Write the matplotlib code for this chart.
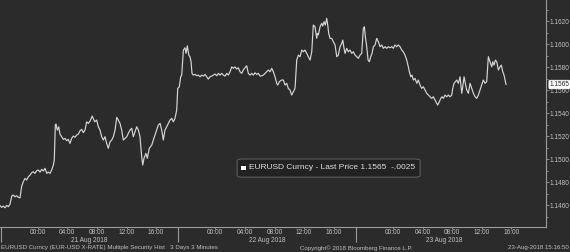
import matplotlib
matplotlib.use("Agg")
import matplotlib.pyplot as plt
from matplotlib import font_manager
from matplotlib.ticker import FixedLocator, MultipleLocator, FormatStrFormatter
from matplotlib.patches import FancyBboxPatch, Rectangle

# hours since 21 Aug 2018 00:00, EURUSD price (3 minute bars)
hours = [
    -5.09, -4.87, -4.65, -4.42, -4.19, -3.97, -3.74, -3.51, -3.30, -3.07,
    -2.84, -2.62, -2.39, -2.16, -1.95, -1.72, -1.49, -1.27, -1.04, -0.81,
    -0.60, -0.37, -0.14, 0.08, 0.31, 0.54, 0.76, 0.99, 1.22, 1.43,
    1.66, 1.89, 2.11, 2.24, 2.38, 2.47, 2.65, 2.84, 3.01, 3.24,
    3.46, 3.69, 3.92, 4.13, 4.36, 4.59, 4.81, 5.04, 5.27, 5.49,
    5.72, 5.95, 6.16, 6.39, 6.62, 6.84, 7.07, 7.36, 7.70, 7.97,
    8.19, 8.42, 8.65, 8.86, 9.09, 9.32, 9.54, 9.77, 10.00, 10.22,
    10.45, 10.68, 10.89, 11.12, 11.35, 11.57, 11.80, 12.03, 12.24, 12.47,
    12.70, 12.92, 13.15, 13.38, 13.60, 13.82, 14.05, 14.19, 14.36, 14.63,
    14.81, 15.08, 15.41, 15.62, 15.85, 16.08, 16.30, 16.53, 16.76, 16.97,
    17.20, 17.43, 17.65, 17.88, 18.11, 18.33, 18.55, 18.78, 18.92, 19.13,
    19.32, 19.46, 19.68, 19.91, 20.04, 20.22, 20.41, 20.58, 20.72, 20.85,
    21.03, 21.26, 21.49, 21.70, 21.93, 22.16, 22.38, 22.61, 22.84, 23.05,
    23.28, 23.51, 23.73, 23.96, 24.19, 24.41, 24.64, 24.86, 25.08, 25.31,
    25.54, 25.76, 25.99, 26.22, 26.43, 26.66, 26.89, 27.11, 27.34, 27.57,
    27.78, 28.01, 28.24, 28.46, 28.69, 28.92, 29.14, 29.36, 29.59, 29.81,
    30.04, 30.27, 30.49, 30.72, 30.95, 31.16, 31.39, 31.62, 31.84, 32.07,
    32.30, 32.43, 32.65, 32.95, 33.19, 33.42, 33.65, 33.86, 34.09, 34.32,
    34.54, 34.77, 35.00, 35.22, 35.45, 35.68, 35.89, 36.12, 36.35, 36.57,
    36.80, 37.03, 37.24, 37.47, 37.70, 37.78, 37.92, 38.15, 38.38, 38.51,
    38.69, 38.86, 39.05, 39.19, 39.32, 39.50, 39.73, 39.95, 40.18, 40.41,
    40.62, 40.85, 41.08, 41.22, 41.39, 41.53, 41.76, 41.97, 42.20, 42.43,
    42.65, 42.88, 43.11, 43.33, 43.55, 43.78, 44.00, 44.14, 44.27, 44.46,
    44.64, 44.81, 45.00, 45.18, 45.35, 45.58, 45.81, 46.03, 46.26, 46.49,
    46.70, 46.93, 47.16, 47.38, 47.61, 47.84, 48.05, 48.28, 48.51, 48.73,
    48.96, 49.19, 49.40, 49.63, 49.86, 50.08, 50.22, 50.41, 50.58, 50.76,
    50.99, 51.22, 51.43, 51.66, 51.89, 52.11, 52.34, 52.57, 52.78, 53.01,
    53.24, 53.46, 53.69, 53.92, 54.05, 54.27, 54.46, 54.64, 54.81, 55.04,
    55.27, 55.49, 55.72, 55.95, 56.08, 56.26, 56.43, 56.62, 56.84, 57.07,
    57.30, 57.43, 57.61, 57.78, 57.97, 58.19, 58.42, 58.65, 58.87, 59.10,
    59.32, 59.54, 59.77, 60.00, 60.21, 60.44, 60.67, 60.89, 61.12, 61.35,
    61.49, 61.66, 61.84, 62.03, 62.24, 62.47, 62.65, 62.84, 63.01, 63.28,
]
prices = [
    1.14594, 1.14580, 1.14591, 1.14576, 1.14597, 1.14585, 1.14608, 1.14678, 1.14687, 1.14672,
    1.14681, 1.14667, 1.14663, 1.14765, 1.14803, 1.14832, 1.14818, 1.14846, 1.14861, 1.14881,
    1.14890, 1.14876, 1.14899, 1.14905, 1.14887, 1.14911, 1.14896, 1.14920, 1.14876, 1.14887,
    1.14876, 1.14905, 1.14948, 1.14992, 1.15297, 1.15305, 1.15253, 1.15282, 1.15218, 1.15195,
    1.15172, 1.15181, 1.15160, 1.15172, 1.15137, 1.15181, 1.15201, 1.15190, 1.15210, 1.15218,
    1.15247, 1.15259, 1.15230, 1.15253, 1.15325, 1.15311, 1.15331, 1.15375, 1.15325, 1.15340,
    1.15282, 1.15253, 1.15195, 1.15166, 1.15195, 1.15137, 1.15094, 1.15151, 1.15166, 1.15195,
    1.15253, 1.15364, 1.15340, 1.15311, 1.15253, 1.15166, 1.15181, 1.15195, 1.15224, 1.15253,
    1.15268, 1.15195, 1.15238, 1.15282, 1.15253, 1.15195, 1.15021, 1.14948, 1.15007, 1.15050,
    1.15007, 1.15094, 1.15122, 1.15166, 1.15210, 1.15253, 1.15297, 1.15311, 1.15253, 1.15166,
    1.15253, 1.15282, 1.15311, 1.15340, 1.15355, 1.15325, 1.15355, 1.15427, 1.15616, 1.15630,
    1.15717, 1.15732, 1.15950, 1.15970, 1.15921, 1.15987, 1.15906, 1.15892, 1.15848, 1.15747,
    1.15732, 1.15738, 1.15726, 1.15732, 1.15717, 1.15732, 1.15723, 1.15738, 1.15717, 1.15697,
    1.15717, 1.15723, 1.15732, 1.15741, 1.15726, 1.15747, 1.15732, 1.15747, 1.15732, 1.15723,
    1.15747, 1.15732, 1.15761, 1.15804, 1.15791, 1.15804, 1.15784, 1.15796, 1.15761, 1.15747,
    1.15776, 1.15796, 1.15813, 1.15747, 1.15732, 1.15747, 1.15732, 1.15752, 1.15738, 1.15747,
    1.15723, 1.15726, 1.15732, 1.15747, 1.15761, 1.15776, 1.15761, 1.15791, 1.15761, 1.15717,
    1.15660, 1.15645, 1.15674, 1.15689, 1.15689, 1.15645, 1.15660, 1.15616, 1.15602, 1.15558,
    1.15587, 1.15616, 1.15863, 1.15906, 1.15892, 1.15950, 1.15935, 1.15950, 1.15921, 1.15892,
    1.15863, 1.15935, 1.16168, 1.16153, 1.16052, 1.16095, 1.16081, 1.16153, 1.16183, 1.16159,
    1.16197, 1.16168, 1.16226, 1.16168, 1.16095, 1.16052, 1.16052, 1.16022, 1.15994, 1.15892,
    1.15906, 1.15979, 1.16008, 1.16037, 1.15965, 1.15921, 1.15965, 1.15935, 1.15950, 1.15921,
    1.15935, 1.15906, 1.15892, 1.15878, 1.15906, 1.15921, 1.16139, 1.16153, 1.16066, 1.15979,
    1.15863, 1.15848, 1.15892, 1.15921, 1.15979, 1.15994, 1.16052, 1.16022, 1.15979, 1.15994,
    1.15965, 1.15979, 1.15965, 1.15979, 1.15970, 1.15979, 1.15965, 1.15994, 1.15979, 1.15994,
    1.15979, 1.15950, 1.15935, 1.15906, 1.15863, 1.15804, 1.15761, 1.15717, 1.15732, 1.15689,
    1.15703, 1.15660, 1.15689, 1.15645, 1.15616, 1.15630, 1.15602, 1.15573, 1.15558, 1.15543,
    1.15529, 1.15543, 1.15514, 1.15486, 1.15471, 1.15500, 1.15529, 1.15543, 1.15529, 1.15558,
    1.15543, 1.15558, 1.15543, 1.15558, 1.15616, 1.15660, 1.15674, 1.15689, 1.15660, 1.15717,
    1.15573, 1.15630, 1.15717, 1.15660, 1.15602, 1.15573, 1.15660, 1.15616, 1.15573, 1.15543,
    1.15529, 1.15558, 1.15602, 1.15645, 1.15689, 1.15660, 1.15674, 1.15892, 1.15848, 1.15804,
    1.15848, 1.15819, 1.15863, 1.15848, 1.15776, 1.15804, 1.15819, 1.15761, 1.15732, 1.15650,
]
assert len(hours) == len(prices)

tick_hours = [0, 4, 8, 12, 16, 24, 28, 32, 36, 40, 48, 52, 56, 60, 64]
tick_labels = ['00:00', '04:00', '08:00', '12:00', '16:00'] * 3
day_breaks = [-5, 19, 43]
day_centres = [7, 31, 55]
day_labels = ['21 Aug 2018', '22 Aug 2018', '23 Aug 2018']
net_change = '-.0025'

BG = '#2b2b2b'
FG = '#c2c2c2'
AX = '#9c9c9c'


def pick_font():
    for fam in ['Liberation Sans Narrow', 'Liberation Sans']:
        try:
            font_manager.findfont(font_manager.FontProperties(family=fam),
                                  fallback_to_default=False)
            return fam
        except ValueError:
            pass
    return 'DejaVu Sans'


fam = pick_font()
narrow = fam.endswith('Narrow')
fs = 5.6 if narrow else 4.7
plt.rcParams['font.family'] = [fam, 'DejaVu Sans']

fig = plt.figure(figsize=(5.7, 2.52), dpi=100, facecolor=BG)
ax = fig.add_axes([0, 0.098, 0.958, 0.902], facecolor=BG)

ax.plot(hours, prices, color='#d6d6d6', lw=0.85, zorder=3)
ax.set_xlim(-5.095, 68.69)
ax.set_ylim(1.14406, 1.16386)

for s in ['top', 'left']:
    ax.spines[s].set_visible(False)
for s in ['right', 'bottom']:
    ax.spines[s].set_color(AX)
    ax.spines[s].set_linewidth(0.8)

# y axis on the right
ax.yaxis.tick_right()
ax.yaxis.set_major_locator(MultipleLocator(0.002))
ax.yaxis.set_minor_locator(MultipleLocator(0.001))
ax.yaxis.set_major_formatter(FormatStrFormatter('%.4f'))
ax.tick_params(axis='y', which='major', length=2, width=0.6, color=AX,
               labelsize=fs, labelcolor=FG, pad=0.8)
ax.tick_params(axis='y', which='minor', length=1.6, width=0.6, color=AX)

# x axis: hour ticks + day separators
ax.xaxis.set_major_locator(FixedLocator(tick_hours))
ax.set_xticklabels(tick_labels)
ax.xaxis.set_minor_locator(FixedLocator(day_breaks))
ax.tick_params(axis='x', which='major', length=1.2, width=0.6, color=AX,
               labelsize=fs, labelcolor=FG, pad=0.2)
ax.tick_params(axis='x', which='minor', length=11, width=0.8, color=AX)

for c, lab in zip(day_centres, day_labels):
    ax.annotate(lab, xy=(c, 0), xycoords=('data', 'axes fraction'),
                xytext=(0, -9.3), textcoords='offset points',
                ha='center', va='center', fontsize=fs, color=FG)

# last price tag on the axis
last_price = prices[-1]
ax.annotate(f'{last_price:.4f}', xy=(1, last_price),
            xycoords=('axes fraction', 'data'),
            xytext=(2.6, 0), textcoords='offset points',
            ha='left', va='center', fontsize=fs, color='#202020', zorder=10,
            bbox=dict(boxstyle='round,pad=0.12,rounding_size=0.15',
                      fc='white', ec='white', lw=0.5),
            annotation_clip=False)

# legend box
fig.patches.append(FancyBboxPatch((0.416, 0.297), 0.321, 0.072,
                                  boxstyle='round,pad=0,rounding_size=0.008',
                                  transform=fig.transFigure, fc='#222222',
                                  ec='#5c5c5c', lw=0.8, zorder=5))
fig.patches.append(Rectangle((0.4225, 0.3235), 0.0085, 0.019,
                             transform=fig.transFigure, fc='white',
                             ec='none', zorder=6))
fig.text(0.436, 0.3335,
         f'EURUSD Curncy - Last Price {last_price:.4f}  {net_change}',
         ha='left', va='center', fontsize=fs + 1.3, color='#dedede', zorder=7)

# footer
fig.text(0.002, 0.017,
         'EURUSD Curncy (EUR-USD X-RATE) Multiple Security Hist   3 Days 3 Minutes',
         ha='left', va='center', fontsize=fs - 0.3, color=FG)
fig.text(0.625, 0.017, 'Copyright\u00a9 2018 Bloomberg Finance L.P.',
         ha='center', va='center', fontsize=fs - 0.3, color=FG)
fig.text(0.998, 0.017, '23-Aug-2018 15:16:50',
         ha='right', va='center', fontsize=fs - 0.3, color=FG)

fig.savefig('out.png', dpi=100, facecolor=BG)
